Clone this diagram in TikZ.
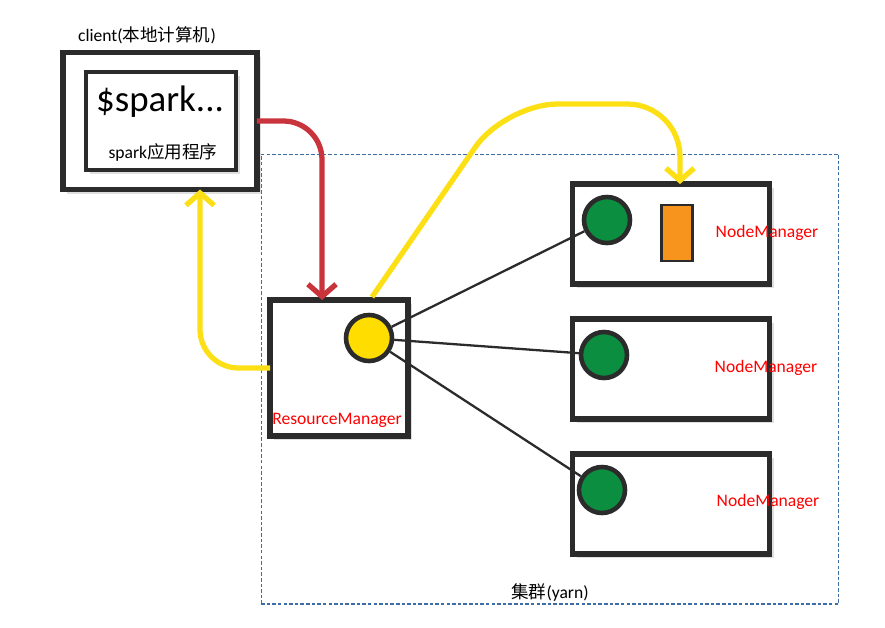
\documentclass[tikz,border=0pt]{standalone}
\usepackage{fontspec}
\setmainfont{Carlito}
\newfontfamily\cjk{Noto Sans CJK SC}
\usepackage{tikz}
\usetikzlibrary{shadows}
\usetikzlibrary{arrows.meta}
\usetikzlibrary{positioning}
\usetikzlibrary{calc}
\usepackage{xcolor}
\definecolor{inkline}{HTML}{2B2B2B}
\definecolor{redflow}{HTML}{C8333C}
\definecolor{yellowflow}{HTML}{FCDF14}
\definecolor{rmyellow}{HTML}{FFDD00}
\definecolor{nmgreen}{HTML}{0B8E3F}
\definecolor{taskorange}{HTML}{F7941D}
\definecolor{yarnblue}{HTML}{3D6DA5}
\tikzset{
  % Common styles for the sketch
  sketchbox/.style={draw=inkline, line width=3pt, fill=white, rectangle,
    inner sep=0pt, outer sep=0pt,
    drop shadow={opacity=0.25, shadow xshift=2.5pt, shadow yshift=-2.5pt}},
  dot/.style={draw=inkline, line width=2.6pt, circle, fill=#1, minimum size=0.92cm, inner sep=0pt},
  cluster/.style={draw=yarnblue, line width=0.6pt, dash pattern=on 2pt off 1.2pt,
    rectangle, inner sep=0pt, minimum width=11.56cm, minimum height=9cm},
  flow/.style={draw=#1, line width=3pt, rounded corners=22pt,
    -{Straight Barb[length=7pt, width=16pt]}},
  link/.style={draw=inkline, line width=1.3pt},
  rolelabel/.style={text=red, font=\fontsize{10}{12}\selectfont, inner sep=0pt}
}

\begin{document}
\begin{tikzpicture}[x=0.02cm, y=-0.02cm]
  \useasboundingbox (0,0) rectangle (885,627);

  % Define nodes
  \node[cluster] (yarn) at (550,379) {};
  \node[inner sep=0pt, font=\fontsize{10}{12}\selectfont] (yarnlabel) at (550,592) {{\cjk 集群}(yarn)};

  \node[sketchbox, minimum width=3.88cm, minimum height=2.74cm] (client) at (160,121) {};
  \node[sketchbox, line width=2.6pt, minimum width=3.0cm, minimum height=1.96cm] (app) at (161,121) {};
  \node[inner sep=0pt, font=\fontsize{10}{12}\selectfont] (clientlabel) at (147,35) {client({\cjk 本地计算机})};
  \node[inner sep=0pt, font=\fontsize{21}{24}\selectfont] (cmd) at (160,102) {\$spark...};
  \node[inner sep=0pt, font=\fontsize{10}{12}\selectfont] (applabel) at (163,152) {spark{\cjk 应用程序}};

  \node[sketchbox, minimum width=2.76cm, minimum height=2.72cm] (rm) at (339,368) {};
  \node[dot=rmyellow] (rmc) at (369,338) {};
  \node[rolelabel] (rmlabel) at (337,420) {ResourceManager};

  \node[sketchbox, minimum width=3.94cm, minimum height=2.0cm] (nm1) at (671,234) {};
  \node[sketchbox, minimum width=3.94cm, minimum height=2.0cm] (nm2) at (671,369) {};
  \node[sketchbox, minimum width=3.94cm, minimum height=2.0cm] (nm3) at (671,504) {};
  \node[dot=nmgreen] (g1) at (607,220) {};
  \node[dot=nmgreen] (g2) at (604,355) {};
  \node[dot=nmgreen] (g3) at (602,490) {};
  \node[draw=inkline, line width=1.5pt, fill=taskorange, inner sep=0pt,
    minimum width=0.62cm, minimum height=1.12cm] (task) at (677,233) {};
  \node[rolelabel] (nmlabel1) at (767,233) {NodeManager};
  \node[rolelabel] (nmlabel2) at (766,368) {NodeManager};
  \node[rolelabel] (nmlabel3) at (768,502) {NodeManager};

  % Define connections
  \path [flow=redflow] (client.east) -| ($(rm.north)+(-17,0)$);
  \path [flow=yellowflow] (rm.west) -| ($(client.south)+(40,0)$);
  \path [flow=yellowflow, rounded corners=30pt] ($(rm.north)+(33,-3)$) -- (505,104) -| ($(nm1.north)+(9,0)$);
  \path [link] (rmc) -- (g1);
  \path [link] (rmc) -- (g2);
  \path [link] (rmc) -- (g3);
\end{tikzpicture}
\end{document}
